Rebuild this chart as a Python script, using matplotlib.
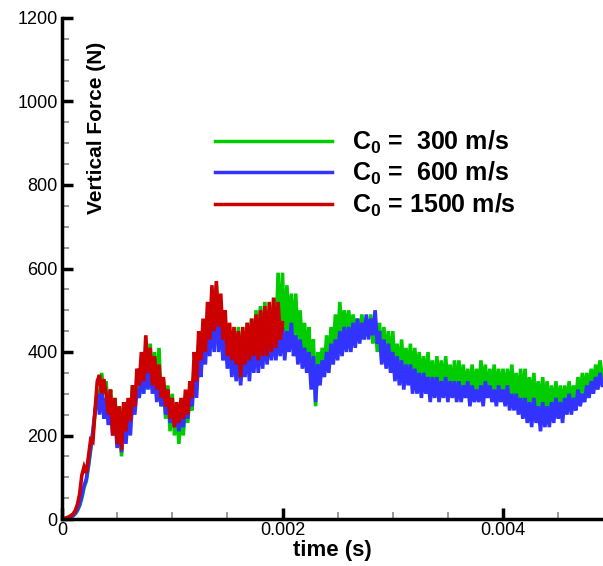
import numpy as np
import matplotlib
matplotlib.use("Agg")
import matplotlib.pyplot as plt
from matplotlib.ticker import MultipleLocator

plt.rcParams['font.family'] = ['Liberation Sans', 'DejaVu Sans']
plt.rcParams['mathtext.fontset'] = 'custom'
plt.rcParams['mathtext.rm'] = 'Liberation Sans:bold'
plt.rcParams['mathtext.bf'] = 'Liberation Sans:bold'
plt.rcParams['mathtext.it'] = 'Liberation Sans:bold'

DT = 0.00002

force_300 = [
    0, 0, 1, 2, 4, 7, 12, 20, 32, 50,
    75, 90, 125, 165, 205, 255, 310, 280, 350, 300,
    330, 250, 310, 230, 290, 200, 270, 150, 280, 190,
    280, 240, 320, 260, 320, 290, 360, 300, 380, 320,
    420, 310, 400, 290, 410, 270, 330, 240, 320, 210,
    300, 200, 270, 180, 260, 200, 280, 230, 300, 260,
    380, 310, 420, 360, 450, 400, 480, 410, 510, 420,
    560, 420, 500, 390, 470, 380, 440, 370, 450, 360,
    460, 360, 450, 380, 470, 390, 480, 400, 500, 410,
    510, 400, 520, 420, 500, 410, 530, 420, 590, 430,
    590, 410, 560, 440, 540, 430, 540, 420, 500, 400,
    470, 380, 460, 330, 430, 270, 400, 340, 410, 360,
    440, 370, 460, 400, 490, 420, 520, 430, 500, 440,
    500, 440, 490, 450, 480, 440, 490, 430, 480, 440,
    490, 420, 480, 400, 470, 380, 460, 370, 450, 360,
    450, 360, 420, 340, 430, 350, 410, 340, 420, 330,
    410, 330, 400, 320, 390, 320, 400, 310, 380, 300,
    390, 310, 380, 300, 390, 310, 370, 300, 380, 300,
    380, 300, 370, 290, 360, 300, 370, 290, 360, 300,
    380, 300, 370, 290, 360, 300, 370, 290, 360, 300,
    360, 290, 360, 290, 370, 290, 350, 280, 360, 280,
    360, 270, 340, 270, 350, 260, 330, 260, 340, 260,
    330, 260, 320, 250, 330, 250, 320, 260, 320, 260,
    330, 270, 320, 280, 340, 290, 350, 300, 350, 300,
    360, 310, 370, 330, 380, 340,
]

force_600 = [
    0, 0, 1, 3, 5, 8, 14, 22, 35, 55,
    80, 95, 130, 170, 210, 260, 300, 250, 320, 240,
    290, 225, 270, 200, 250, 170, 240, 160, 250, 180,
    260, 200, 290, 250, 310, 290, 350, 300, 370, 310,
    370, 300, 350, 280, 330, 270, 320, 250, 300, 230,
    280, 220, 270, 210, 260, 220, 280, 240, 300, 270,
    360, 290, 390, 340, 430, 370, 450, 390, 480, 400,
    520, 400, 480, 380, 440, 360, 420, 340, 400, 330,
    400, 320, 390, 340, 410, 330, 420, 350, 430, 350,
    430, 360, 440, 370, 440, 380, 450, 380, 450, 390,
    460, 380, 450, 400, 470, 390, 440, 370, 430, 360,
    410, 350, 400, 310, 390, 280, 370, 320, 380, 340,
    400, 350, 420, 370, 430, 380, 450, 390, 460, 400,
    460, 400, 470, 410, 480, 420, 470, 430, 490, 430,
    480, 440, 500, 420, 450, 370, 430, 360, 420, 350,
    400, 330, 390, 320, 380, 310, 370, 320, 370, 300,
    360, 300, 350, 290, 350, 300, 340, 280, 340, 290,
    340, 280, 330, 290, 340, 280, 330, 290, 330, 280,
    330, 280, 320, 290, 330, 270, 320, 280, 310, 280,
    320, 270, 330, 290, 320, 280, 310, 270, 320, 280,
    310, 270, 320, 260, 300, 260, 300, 250, 290, 240,
    290, 230, 280, 220, 290, 230, 270, 210, 280, 220,
    270, 220, 280, 230, 290, 240, 280, 230, 290, 250,
    300, 250, 290, 260, 310, 270, 300, 280, 320, 290,
    330, 300, 340, 310, 350, 320,
]

force_1500 = [
    0, 1, 3, 5, 8, 12, 20, 35, 60, 105,
    125, 110, 150, 190, 185, 260, 330, 345, 300, 335,
    300, 250, 310, 200, 290, 180, 270, 165, 280, 210,
    290, 235, 320, 270, 360, 320, 400, 330, 440, 350,
    410, 320, 390, 310, 370, 290, 340, 270, 310, 240,
    290, 220, 280, 230, 290, 240, 310, 250, 330, 290,
    400, 330, 450, 380, 480, 400, 520, 430, 560, 450,
    570, 460, 540, 430, 500, 390, 470, 380, 460, 370,
    450, 340, 460, 370, 470, 380, 480, 390, 490, 380,
    500, 390, 510, 390, 520, 400, 530, 410, 520, 430,
    470,
]

labels = [r"C$_\mathbf{0}$ =  300 m/s", r"C$_\mathbf{0}$ =  600 m/s", r"C$_\mathbf{0}$ = 1500 m/s"]
colors = ["#00cc00", "#3333ff", "#cc0000"]

fig = plt.figure(figsize=(6.03, 5.66), dpi=100)
ax = fig.add_axes([62/603, 47/566, 541/603, 501/566])

for vals, lab, col in zip([force_300, force_600, force_1500], labels, colors):
    t = np.arange(len(vals)) * DT
    ax.plot(t, vals, color=col, lw=2.6, label=lab, solid_joinstyle='miter')

ax.set_xlim(0, 0.004907)
ax.set_ylim(0, 1200)
ax.spines['top'].set_visible(False)
ax.spines['right'].set_visible(False)
for s in ['left', 'bottom']:
    ax.spines[s].set_linewidth(2.5)
ax.xaxis.set_major_locator(MultipleLocator(0.002))
ax.xaxis.set_minor_locator(MultipleLocator(0.0005))
ax.yaxis.set_major_locator(MultipleLocator(200))
ax.yaxis.set_minor_locator(MultipleLocator(50))
ax.set_xticks([0, 0.002, 0.004])
ax.set_xticklabels(["0", "0.002", "0.004"])
ax.tick_params(which='major', direction='in', length=8, width=2.5, labelsize=13, pad=3)
ax.tick_params(which='minor', direction='in', length=5, width=1.2, color='#888888')
ax.tick_params(axis='x', which='major', pad=2)

ax.set_xlabel("time (s)", fontsize=16, fontweight='bold', labelpad=1)
fig.text(96/603, 1 - 128/566, "Vertical Force (N)", rotation=90, ha='center', va='center',
         fontsize=15, fontweight='bold')

leg = ax.legend(loc='upper left', bbox_to_anchor=(153/541, 1 - (129-18)/501),
                frameon=False, fontsize=18, handlelength=4.68, handletextpad=0.8,
                labelspacing=0.16, borderaxespad=0, borderpad=0)
for line in leg.get_lines():
    line.set_linewidth(2.5)
for txt in leg.get_texts():
    txt.set_fontweight('bold')

fig.savefig("out.png", dpi=100)
